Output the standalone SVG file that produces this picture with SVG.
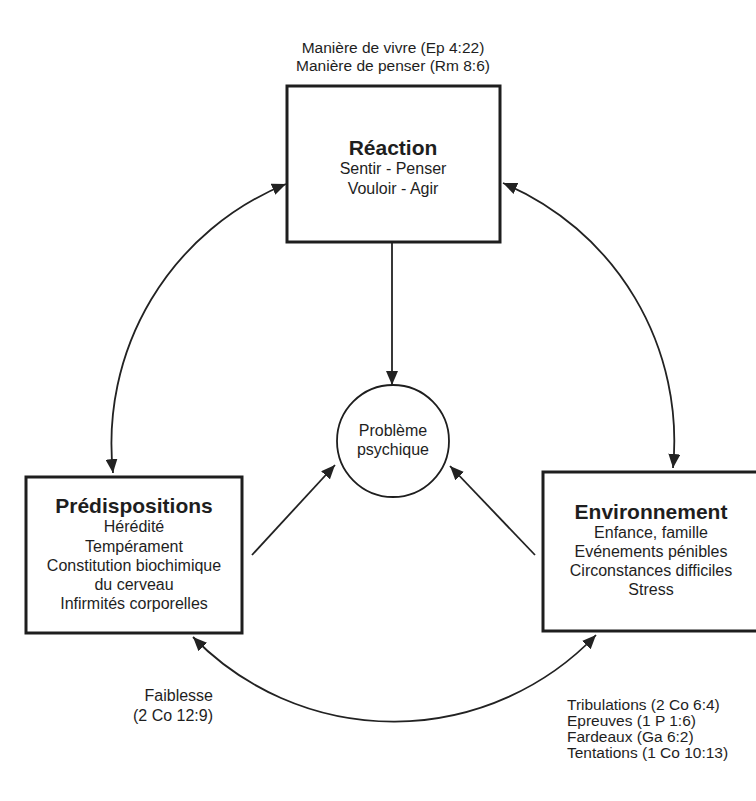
<svg xmlns="http://www.w3.org/2000/svg" width="756" height="801" viewBox="0 0 756 801">
<defs>
<style>
text{font-family:"Liberation Sans",Arial,sans-serif;fill:#1e1e1e;text-anchor:middle}
.t{font-size:21px;font-weight:bold}
.b{font-size:16px}
.s{font-size:15.5px}
.r{font-size:15.5px;text-anchor:start}
.box{fill:none;stroke:#1e1e1e;stroke-width:3}
.c{fill:none;stroke:#1e1e1e;stroke-width:1.8}
.con{fill:none;stroke:#222;stroke-width:1.8;marker-end:url(#ah)}
.dbl{marker-start:url(#ah)}
</style>
<marker id="ah" markerUnits="userSpaceOnUse" viewBox="0 0 14 12" refX="14" refY="6" markerWidth="14" markerHeight="12" orient="auto-start-reverse">
<path d="M0,0 L14,6 L0,12 z" fill="#222"/>
</marker>
</defs>
<rect width="756" height="801" fill="#fff"/>

<g id="labels-top">
<text class="s" x="393" y="53">Manière de vivre (Ep 4:22)</text>
<text class="s" x="393" y="71">Manière de penser (Rm 8:6)</text>
</g>

<g id="reaction">
<rect class="box" x="287" y="86" width="213" height="156"/>
<text class="t" x="393" y="155">Réaction</text>
<text class="b" x="393" y="174">Sentir - Penser</text>
<text class="b" x="393" y="194">Vouloir - Agir</text>
</g>

<g id="probleme">
<circle class="c" cx="393" cy="441" r="56"/>
<text class="b" x="393" y="436">Problème</text>
<text class="b" x="393" y="455">psychique</text>
</g>

<g id="predispositions">
<rect class="box" x="26" y="477" width="216" height="156"/>
<text class="t" x="134" y="513">Prédispositions</text>
<text class="b" x="134" y="532">Hérédité</text>
<text class="b" x="134" y="552">Tempérament</text>
<text class="b" x="134" y="571">Constitution biochimique</text>
<text class="b" x="134" y="590">du cerveau</text>
<text class="b" x="134" y="609">Infirmités corporelles</text>
</g>

<g id="environnement">
<rect class="box" x="543" y="472" width="220" height="159"/>
<text class="t" x="651" y="519">Environnement</text>
<text class="b" x="651" y="538">Enfance, famille</text>
<text class="b" x="651" y="557">Evénements pénibles</text>
<text class="b" x="651" y="576">Circonstances difficiles</text>
<text class="b" x="651" y="595">Stress</text>
</g>

<g id="label-faiblesse">
<text class="b" x="213" y="701" style="text-anchor:end">Faiblesse</text>
<text class="b" x="213" y="721" style="text-anchor:end">(2 Co 12:9)</text>
</g>

<g id="label-tribulations">
<text class="r" x="567" y="710">Tribulations (2 Co 6:4)</text>
<text class="r" x="567" y="726">Epreuves (1 P 1:6)</text>
<text class="r" x="567" y="742">Fardeaux (Ga 6:2)</text>
<text class="r" x="567" y="758">Tentations (1 Co 10:13)</text>
</g>

<g id="connectors">
<path class="con" d="M392,243 L392,385"/>
<path class="con" d="M252,555 L335,465"/>
<path class="con" d="M535,555 L450,466"/>
<path class="con dbl" d="M286,184 A280,280 0 0 0 113,473"/>
<path class="con dbl" d="M503,183 A280,280 0 0 1 673,468"/>
<path class="con dbl" d="M193,637 A280,280 0 0 0 596,635"/>
</g>
</svg>
